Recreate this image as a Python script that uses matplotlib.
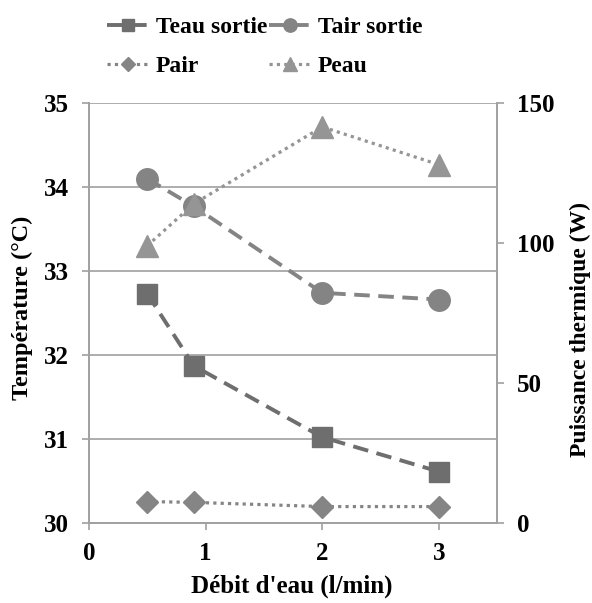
import matplotlib.pyplot as plt
from matplotlib.ticker import MultipleLocator

plt.rcParams['font.family'] = ['Liberation Serif', 'DejaVu Serif']
plt.rcParams['font.weight'] = 'bold'

debit = [0.5, 0.9, 2, 3]
teau_sortie = [32.73, 31.87, 31.02, 30.61]
tair_sortie = [34.10, 33.77, 32.74, 32.66]
pair = [7.6, 7.3, 5.8, 5.8]
peau = [99, 114, 141.5, 128]

grey_axis = '#a0a0a0'

fig = plt.figure(figsize=(5.92, 6.03), dpi=100)
ax = fig.add_axes([0.150, 0.133, 0.690, 0.696])
ax2 = ax.twinx()

dash = (0, (4, 2.2))
dot = (0, (1, 1.3))
l1, = ax.plot(debit, teau_sortie, color='#6e6e6e', ls=dash, lw=2.8,
              marker='s', ms=15, label='Teau sortie', zorder=3)
l2, = ax.plot(debit, tair_sortie, color='#848484', ls=dash, lw=2.8,
              marker='o', ms=15.5, label='Tair sortie', zorder=3)
l3, = ax2.plot(debit, pair, color='#858585', ls=dot, lw=2.3,
               marker='D', ms=11.5, label='Pair')
l4, = ax2.plot(debit, peau, color='#959595', ls=dot, lw=2.3,
               marker='^', ms=16, label='Peau')

ax.set_xlim(0, 3.5)
ax.set_ylim(30, 35)
ax2.set_ylim(0, 150)
ax.xaxis.set_major_locator(MultipleLocator(1))
ax.yaxis.set_major_locator(MultipleLocator(1))
ax2.yaxis.set_major_locator(MultipleLocator(50))

ax.grid(axis='y', color=grey_axis, lw=1.2)
ax.set_axisbelow(True)
for a in (ax, ax2):
    a.spines['top'].set_visible(False)
    for s in ('left', 'right', 'bottom'):
        a.spines[s].set_color(grey_axis)
        a.spines[s].set_linewidth(1.2)
    a.tick_params(colors=grey_axis, labelcolor='black', labelsize=18,
                  length=5, width=1.2, pad=9)

ax.set_xlabel("Débit d'eau (l/min)", fontsize=18, fontweight='bold', va='center')
ax.set_ylabel('Température (°C)', fontsize=17.5, fontweight='bold', va='center')
ax2.set_ylabel('Puissance thermique (W)', fontsize=17, fontweight='bold',
               va='center')
ax.xaxis.set_label_coords(0.498, -0.152)
ax.yaxis.set_label_coords(-0.162, 0.512)
ax2.yaxis.set_label_coords(1.203, 0.46)

fig.legend([l1, l3, l2, l4], ['Teau sortie', 'Pair', 'Tair sortie', 'Peau'],
           ncol=2, loc='upper center', bbox_to_anchor=(0.447, 1.008),
           frameon=False, fontsize=17, handlelength=1.75, handletextpad=0.3,
           columnspacing=0.1, labelspacing=0.75, markerscale=0.62)

fig.savefig('out.png', dpi=100)
